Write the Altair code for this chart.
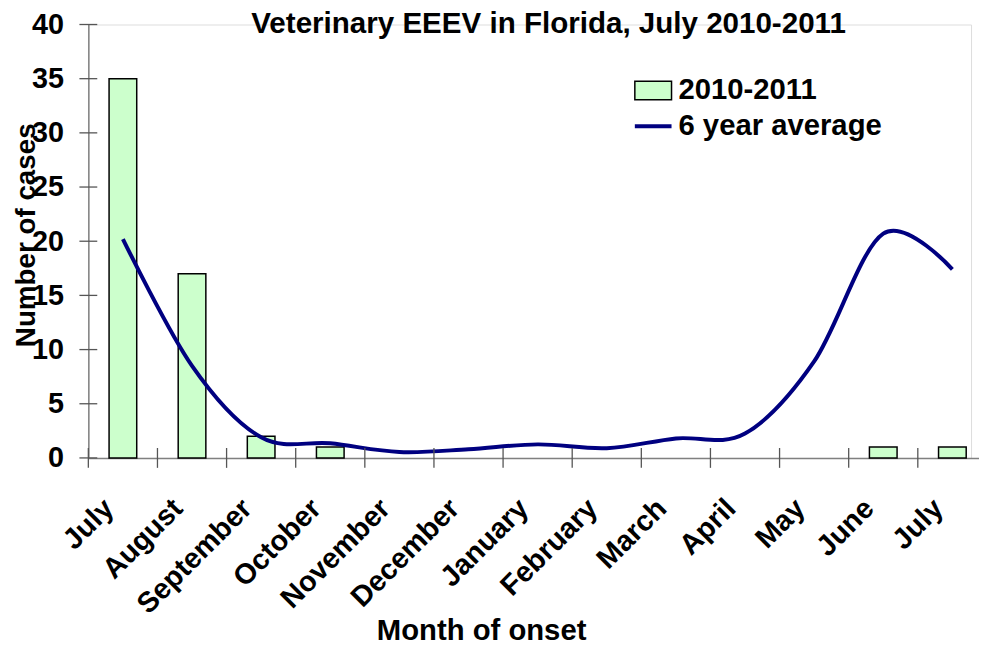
import json
import altair as alt
import pandas as pd

# ---- data ----
months = ["July", "August", "September", "October", "November", "December",
          "January", "February", "March", "April", "May", "June", "July"]
cases_2010_2011 = [35, 17, 2, 1, 0, 0, 0, 0, 0, 0, 0, 1, 1]
six_year_average = [20.2, 8.5, 1.9, 1.35, 0.55, 0.8, 1.25, 0.9, 1.8, 2.25, 8.9, 20.7, 17.4]
y_tick_values = [0, 5, 10, 15, 20, 25, 30, 35, 40]
bar_series_name = "2010-2011"
line_series_name = "6 year average"

FONT = "Liberation Sans"

df = pd.DataFrame({
    "idx": list(range(len(months))),
    "month": months,
    "cases": cases_2010_2011,
    "avg": six_year_average,
    "bar_series": bar_series_name,
    "line_series": line_series_name,
})
ticks_df = pd.DataFrame({"tick": y_tick_values})

label_expr = json.dumps(months) + "[datum.value]"

x_scale = alt.Scale(range=[0, 906], paddingInner=0, paddingOuter=0)
y_scale = alt.Scale(domain=[0, 40], nice=False, zero=True)

x_axis = alt.Axis(
    title="Month of onset", labelExpr=label_expr, labelAngle=-45,
    labelAlign="right", labelBaseline="top", labelPadding=36, labelOffset=-24,
    labelFont=FONT, labelFontSize=29, labelFontWeight="bold", labelColor="black",
    labelOverlap=False, ticks=False, grid=False,
    domainColor="#808080", domainWidth=1.5,
    titleFont=FONT, titleFontSize=29.5, titleFontWeight="bold", titleColor="black",
    titleX=396, titleY=183, titleAlign="center", titleBaseline="alphabetic",
)
y_axis = alt.Axis(
    title="Number of cases", values=y_tick_values,
    labelFont=FONT, labelFontSize=29, labelFontWeight="bold", labelColor="black",
    labelPadding=25, ticks=False, grid=False,
    domainColor="#808080", domainWidth=1.5,
    titleFont=FONT, titleFontSize=28, titleFontWeight="bold", titleColor="black",
    titleX=-54, titleY=212, titleAngle=-90, titleAlign="center",
    titleBaseline="alphabetic",
)

X = alt.X("idx:O", scale=x_scale, axis=x_axis)

bars = alt.Chart(df).transform_filter("datum.cases > 0").mark_bar(
    width=alt.RelativeBandSize(0.4), stroke="black", strokeWidth=1.5
).encode(
    x=X,
    y=alt.Y("cases:Q", scale=y_scale, axis=y_axis),
    fill=alt.Fill(
        "bar_series:N",
        scale=alt.Scale(domain=[bar_series_name], range=["#ccffcc"]),
        legend=alt.Legend(
            title=None, orient="none", legendX=550, legendY=47, padding=0,
            symbolType="M-1,-0.5H1V0.5H-1Z", symbolSize=1369,
            symbolStrokeColor="black", symbolStrokeWidth=1.5, symbolOpacity=1,
            labelFont=FONT, labelFontSize=29.5, labelFontWeight="bold",
            labelColor="black", labelOffset=6, labelLimit=400,
        ),
    ),
)

line = alt.Chart(df).mark_line(interpolate="cardinal", strokeWidth=4).encode(
    x=X,
    y=alt.Y("avg:Q", scale=y_scale, axis=y_axis),
    stroke=alt.Stroke(
        "line_series:N",
        scale=alt.Scale(domain=[line_series_name], range=["#000080"]),
        legend=alt.Legend(
            title=None, orient="none", legendX=549, legendY=82, padding=0,
            symbolType="stroke", symbolSize=1369, symbolStrokeWidth=4,
            labelFont=FONT, labelFontSize=29.5, labelFontWeight="bold",
            labelColor="black", labelOffset=5, labelLimit=400,
        ),
    ),
)

x_ticks = alt.Chart(df).mark_rule(color="#555555", strokeWidth=1.3).encode(
    x=alt.X("idx:O", bandPosition=0, scale=x_scale, axis=x_axis),
    y=alt.value(427),
    y2=alt.value(447),
)

y_ticks = alt.Chart(ticks_df).mark_rule(color="#555555", strokeWidth=1.3).encode(
    y=alt.Y("tick:Q", scale=y_scale, axis=y_axis),
    x=alt.value(-9),
    x2=alt.value(9),
)

chart = alt.layer(bars, line, x_ticks, y_ticks).properties(
    width=890,
    height=437,
    autosize=alt.AutoSizeParams(type="none"),
    padding={"left": 81, "top": 14, "right": 8, "bottom": 190},
    title=alt.TitleParams(
        text="Veterinary EEEV in Florida, July 2010-2011",
        font=FONT, fontSize=29.8, fontWeight="bold", color="black",
        anchor="middle", frame="group", baseline="alphabetic",
        offset=-52, dx=19,
    ),
).configure_view(stroke=None).configure(background="white")

chart.save("out.html", embed_options={"renderer": "svg", "actions": False})
